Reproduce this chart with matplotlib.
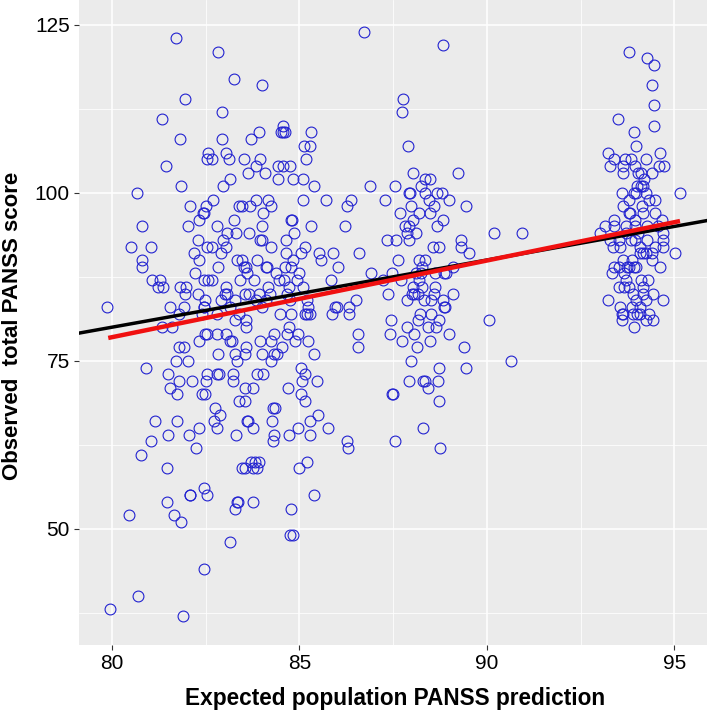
#!/usr/bin/env python3
import numpy as np
import matplotlib
matplotlib.use("Agg")
import matplotlib.pyplot as plt

plt.rcParams["font.family"] = ["Liberation Sans", "DejaVu Sans"]

# ─── Points, one row per observed score ────────────────────────────────────────
left_x = [
    81.71, 82.83, 83.25, 84.01, 81.95, 81.34, 82.93,
    81.82, 82.93, 83.72,
    83.93, 84.52, 84.57, 84.62, 85.32,
    84.57, 85.11, 85.27, 82.57, 83.05,
    82.53, 82.67, 83.11, 83.52, 83.95, 85.17,
    81.45, 83.85, 84.42, 84.55, 84.75,
    83.63, 84.08, 83.16, 84.43, 84.82, 85.10,
    85.39, 81.85, 82.95, 80.67,
    82.70, 83.85, 84.16, 85.10,
    82.07, 82.52, 83.40, 83.47, 83.68, 84.24,
    82.43, 82.46, 84.03,
    82.32, 83.25, 84.77, 84.81,
    80.81, 82.03, 82.79, 84.00, 85.31,
    83.07, 83.31, 83.65, 84.85,
    82.29, 82.96, 83.96, 84.00, 84.65,
    80.52, 81.04, 82.53, 82.67, 83.04, 84.24, 85.14,
    82.20, 82.90, 84.65, 85.03, 85.53,
    80.79, 82.31, 83.34, 83.47, 83.86, 84.82, 85.57,
    80.80, 82.82, 83.52, 83.57, 84.10, 84.14, 84.61, 84.77,
    82.22, 83.59, 84.38, 85.00,
    81.06, 81.29, 82.46, 82.55, 82.68, 83.42, 83.79, 84.45, 84.59, 84.93,
    81.24, 81.35, 81.82, 81.98, 83.04, 84.16, 84.73, 85.10,
    81.94, 82.30, 83.01, 83.06, 83.55, 83.66, 83.92, 84.21, 84.68,
    82.47, 82.91, 83.27, 83.83, 84.12, 84.74, 85.21,
    79.86, 81.56, 81.92, 82.45, 82.46, 83.16, 84.01, 85.23,
    81.80, 82.40, 82.79, 83.38, 84.49, 84.77, 85.14, 85.21, 85.29,
    83.29, 83.57,
    81.33, 81.60, 83.58, 84.71,
    82.49, 82.54, 82.79, 83.04, 84.31, 84.68, 84.96,
    82.31, 83.14, 83.19, 83.96, 84.23, 84.87, 85.22,
    81.79, 81.92, 83.58, 84.53,
    82.82, 83.27, 83.54, 83.99, 84.33, 84.41, 85.38,
    81.71, 82.04, 83.33, 84.25,
    80.92, 85.05,
    81.49, 82.54, 82.81, 82.86, 83.23, 83.87, 84.04, 85.14,
    81.79, 82.13, 82.50, 83.22, 85.08, 85.46,
    81.55, 83.54, 83.77, 84.70,
    81.74, 82.39, 82.49, 85.04,
    83.40, 83.54, 85.14,
    82.75, 84.29, 84.36,
    82.89, 85.49,
    81.14, 81.73, 82.71, 83.60, 83.64, 84.26, 85.29,
    82.33, 82.81, 83.76, 84.95,
    81.50, 82.06, 83.31, 84.32, 84.71, 85.27,
    81.03, 84.30,
    82.23,
    80.78,
    83.72, 83.82, 83.93, 85.19,
    81.46, 83.48, 83.54, 83.77, 83.88, 84.98,
    82.46,
    82.07, 82.09, 82.54, 85.38,
    81.48, 83.33, 83.36, 83.76,
    83.28, 84.78,
    80.45, 81.65,
    81.83,
    84.75, 84.82,
    83.16, 82.46, 80.69, 79.94, 81.89,
]
left_y = [
    123, 121, 117, 116, 114, 111, 112,
    108, 108, 108,
    109, 109, 109, 109, 109,
    110, 107, 107, 106, 106,
    105, 105, 105, 105, 105, 105,
    104, 104, 104, 104, 104,
    103, 103, 102, 102, 102, 102,
    101, 101, 101, 100,
    99, 99, 99, 99,
    98, 98, 98, 98, 98, 98,
    97, 97, 97,
    96, 96, 96, 96,
    95, 95, 95, 95, 95,
    94, 94, 94, 94,
    93, 93, 93, 93, 93,
    92, 92, 92, 92, 92, 92, 92,
    91, 91, 91, 91, 91,
    90, 90, 90, 90, 90, 90, 90,
    89, 89, 89, 89, 89, 89, 89, 89,
    88, 88, 88, 88,
    87, 87, 87, 87, 87, 87, 87, 87, 87, 87,
    86, 86, 86, 86, 86, 86, 86, 86,
    85, 85, 85, 85, 85, 85, 85, 85, 85,
    84, 84, 84, 84, 84, 84, 84,
    83, 83, 83, 83, 83, 83, 83, 83,
    82, 82, 82, 82, 82, 82, 82, 82, 82,
    81, 81,
    80, 80, 80, 80,
    79, 79, 79, 79, 79, 79, 79,
    78, 78, 78, 78, 78, 78, 78,
    77, 77, 77, 77,
    76, 76, 76, 76, 76, 76, 76,
    75, 75, 75, 75,
    74, 74,
    73, 73, 73, 73, 73, 73, 73, 73,
    72, 72, 72, 72, 72, 72,
    71, 71, 71, 71,
    70, 70, 70, 70,
    69, 69, 69,
    68, 68, 68,
    67, 67,
    66, 66, 66, 66, 66, 66, 66,
    65, 65, 65, 65,
    64, 64, 64, 64, 64, 64,
    63, 63,
    62,
    61,
    60, 60, 60, 60,
    59, 59, 59, 59, 59, 59,
    56,
    55, 55, 55, 55,
    54, 54, 54, 54,
    53, 53,
    52, 52,
    51,
    49, 49,
    48, 44, 40, 38, 37,
]

mid_x = [
    86.71, 88.83, 87.76, 87.74, 87.89, 88.04, 89.24,
    88.35, 88.47,
    86.89, 87.54, 88.24,
    87.91, 87.96, 88.34, 88.67, 88.80,
    85.72, 86.37, 87.29, 88.46, 88.98,
    86.27, 87.98, 88.59, 89.45,
    87.69, 88.18, 88.49,
    88.02, 88.84,
    86.22, 87.82, 87.93, 88.67,
    87.86, 88.10, 90.19, 90.93,
    87.33, 87.57, 87.93, 89.31,
    88.56, 88.71, 89.32,
    85.89, 86.60, 89.52,
    87.63, 88.18, 88.36,
    86.04, 88.27, 89.10,
    86.91, 87.46, 88.11, 88.23, 88.61, 88.85, 88.92,
    85.85, 87.22, 87.71, 88.19,
    88.03, 88.28, 88.62,
    87.35, 87.99, 88.06, 88.15, 88.59, 89.10,
    86.50, 87.88, 88.31, 88.51, 88.82,
    85.96, 86.00, 86.31, 88.86, 88.89,
    85.87, 86.32, 88.22, 88.52,
    87.44, 88.15, 88.72, 90.05,
    87.86, 88.42, 88.64,
    86.57, 87.41, 88.05, 88.98,
    87.74, 88.48,
    86.56, 88.13, 89.40,
    87.97, 90.63,
    88.71, 89.43,
    87.92, 88.29, 88.34, 88.70,
    88.43,
    87.47, 87.50,
    88.73,
    85.75, 88.30,
    86.26, 87.56,
    86.30, 88.76,
]
mid_y = [
    124, 122, 114, 112, 107, 103, 103,
    102, 102,
    101, 101, 101,
    100, 100, 100, 100, 100,
    99, 99, 99, 99, 99,
    98, 98, 98, 98,
    97, 97, 97,
    96, 96,
    95, 95, 95, 95,
    94, 94, 94, 94,
    93, 93, 93, 93,
    92, 92, 92,
    91, 91, 91,
    90, 90, 90,
    89, 89, 89,
    88, 88, 88, 88, 88, 88, 88,
    87, 87, 87, 87,
    86, 86, 86,
    85, 85, 85, 85, 85, 85,
    84, 84, 84, 84, 84,
    83, 83, 83, 83, 83,
    82, 82, 82, 82,
    81, 81, 81, 81,
    80, 80, 80,
    79, 79, 79, 79,
    78, 78,
    77, 77, 77,
    75, 75,
    74, 74,
    72, 72, 72, 72,
    71,
    70, 70,
    69,
    65, 65,
    63, 63,
    62, 62,
]

right_x = [
    93.79, 94.26, 94.45, 94.39, 94.46, 93.50, 94.46, 93.91, 93.98,
    93.23, 94.61,
    93.40, 93.67, 93.83, 94.25,
    93.29, 93.62, 93.95, 94.60, 94.72,
    93.62, 94.02, 94.12, 94.39,
    94.19,
    94.01, 94.10, 94.15,
    93.61, 93.92, 93.97, 94.25, 95.16,
    93.79, 94.33, 94.48,
    93.62, 94.13,
    93.79, 93.82, 94.15, 94.48,
    93.38, 93.95, 94.67,
    93.15, 93.39, 93.71, 93.96, 94.26, 94.57,
    93.02, 93.71, 94.03, 94.69,
    93.27, 93.53, 93.83, 93.94, 94.28, 94.69,
    93.35, 93.56, 94.08, 94.48, 94.70,
    94.09, 94.16, 94.24, 94.41, 95.02,
    93.62, 93.87, 94.41,
    93.38, 93.52, 93.74, 93.80, 93.92, 93.98, 94.61,
    93.34, 93.65,
    93.70, 94.11, 94.29,
    93.51, 93.65, 93.80, 94.17,
    93.90, 94.17, 94.44,
    93.22, 93.98, 94.23, 94.69,
    93.54, 93.86, 94.07,
    93.59, 93.64, 93.90, 94.01, 94.09, 94.31,
    93.60, 94.24, 94.42,
    93.92,
]
right_y = [
    121, 120, 119, 116, 113, 111, 110, 109, 107,
    106, 106,
    105, 105, 105, 105,
    104, 104, 104, 104, 104,
    103, 103, 103, 103,
    102,
    101, 101, 101,
    100, 100, 100, 100, 100,
    99, 99, 99,
    98, 98,
    97, 97, 97, 97,
    96, 96, 96,
    95, 95, 95, 95, 95, 95,
    94, 94, 94, 94,
    93, 93, 93, 93, 93, 93,
    92, 92, 92, 92, 92,
    91, 91, 91, 91, 91,
    90, 90, 90,
    89, 89, 89, 89, 89, 89, 89,
    88, 88,
    87, 87, 87,
    86, 86, 86, 86,
    85, 85, 85,
    84, 84, 84, 84,
    83, 83, 83,
    82, 82, 82, 82, 82, 82,
    81, 81, 81,
    80,
]

fit_x = [79.9, 95.15]
fit_y = [78.4, 95.8]

x_major = [80, 85, 90, 95]
x_minor = [82.5, 87.5, 92.5]
y_major = [50, 75, 100, 125]
y_minor = [37.5, 62.5, 87.5, 112.5]

# ─── Make the plot ─────────────────────────────────────────────────────────────
fig = plt.figure(figsize=(7.09, 7.12), dpi=100)
ax = fig.add_axes([79 / 709, 1 - 645 / 712, 628 / 709, 645 / 712])
ax.set_facecolor("#EBEBEB")

x = np.array(left_x + mid_x + right_x)
y = np.array(left_y + mid_y + right_y)
ax.plot(x, y, "o", mfc="none", mec="#2222d0", ms=7.8, mew=0.8, zorder=3)

# identity line, then the fitted line over it
ax.axline((80, 80), slope=1, color="black", lw=2.5, zorder=4)
ax.plot(fit_x, fit_y, color="#F01010", lw=3.2, solid_capstyle="butt", zorder=5)

ax.set_xlim(79.12, 95.87)
ax.set_ylim(32.7, 128.7)
ax.set_xticks(x_major)
ax.set_xticks(x_minor, minor=True)
ax.set_yticks(y_major)
ax.set_yticks(y_minor, minor=True)
ax.grid(which="major", color="white", lw=1.1, zorder=1)
ax.grid(which="minor", color="white", lw=0.55, zorder=1)
ax.set_axisbelow(True)
for s in ax.spines.values():
    s.set_visible(False)
ax.tick_params(which="minor", length=0)
ax.tick_params(which="major", length=3.5, width=0.8, color="#333333", labelsize=15, pad=3)

fig.text(395 / 709, 1 - 698 / 712, "Expected population PANSS prediction",
         fontsize=16.3, fontweight="bold", ha="center", va="center")
fig.text(13 / 709, 1 - 326 / 712, "Observed  total PANSS score", rotation=90,
         fontsize=16, fontweight="bold", ha="center", va="center")

fig.savefig("out.png", dpi=100)
plt.close(fig)
